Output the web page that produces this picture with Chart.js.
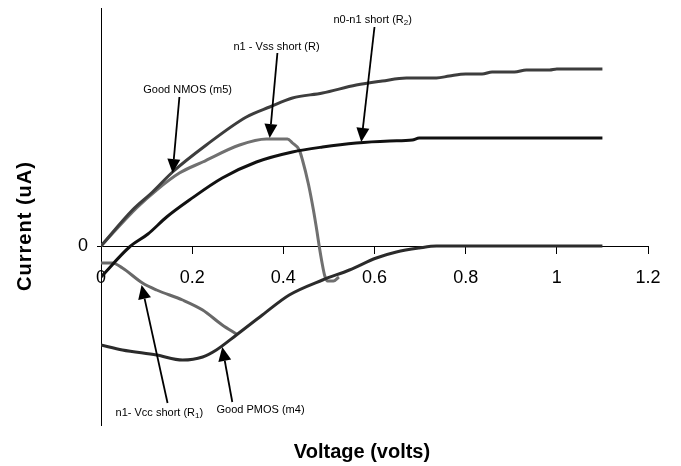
<!DOCTYPE html>
<html>
<head>
<meta charset="utf-8">
<script src="https://cdn.jsdelivr.net/npm/chart.js@4.4.1/dist/chart.umd.min.js"></script>
<style>
  html, body { margin:0; padding:0; background:#fff; }
  #wrap { width:681px; height:466px; }
</style>
</head>
<body>
<div id="wrap"><canvas id="c" width="681" height="466"></canvas></div>
<script>
// ---- data (voltage in volts, current in arbitrary uA units) ----
const xTickValues = [0, 0.2, 0.4, 0.6, 0.8, 1, 1.2];
const yTickValues = [0];

const nmosV = [0, 0.069, 0.113, 0.157, 0.231, 0.319, 0.37, 0.42, 0.486, 0.56, 0.617, 0.67, 0.72, 0.736, 0.764, 0.80, 0.836, 0.858, 0.907, 0.933, 0.984, 1.0, 1.1];
const nmosI = [0, 36, 54, 74, 101, 129, 139, 148, 153, 161, 165, 168, 168, 168, 170, 172, 172, 174, 174, 176, 176, 177, 177];

const vssV = [0, 0.078, 0.122, 0.172, 0.223, 0.304, 0.363, 0.409, 0.42, 0.435, 0.442, 0.455, 0.466, 0.474, 0.479, 0.485, 0.491, 0.497, 0.51, 0.522];
const vssI = [0, 38, 56, 73, 84, 101, 107, 107, 103, 96, 86, 62, 36, 14, -1, -17, -30, -35, -35, -31];

const r2V = [0, 0.0625, 0.103, 0.144, 0.194, 0.266, 0.341, 0.42, 0.486, 0.56, 0.633, 0.683, 0.698, 1.1];
const r2I = [-31, -1, 12, 29, 46, 68, 84, 94, 99, 103, 105, 106, 108, 108];

const pmosV = [0, 0.047, 0.122, 0.179, 0.223, 0.253, 0.297, 0.354, 0.413, 0.486, 0.545, 0.604, 0.648, 0.698, 0.736, 1.1];
const pmosI = [-99, -104, -109, -114, -111, -104, -89, -69, -49, -34, -24, -12, -6, -2, 0, 0];

const vccV = [0, 0.025, 0.047, 0.091, 0.122, 0.179, 0.223, 0.266, 0.297];
const vccI = [-17, -17, -22, -37, -44, -54, -64, -79, -88];

// annotation labels (text anchor and arrow in data coordinates)
const labels = [
  { parts:[['Good NMOS (m5)',0]], tx:0.19, ty:156, fx:0.172, fy:149, ax:0.157, ay:73 },
  { parts:[['n1 - Vss short (R)',0]], tx:0.385, ty:199, fx:0.387, fy:193, ax:0.370, ay:108 },
  { parts:[['n0-n1 short (R',0],['2',1],[')',0]], tx:0.596, ty:226, fx:0.600, fy:219, ax:0.571, ay:104 },
  { parts:[['n1- Vcc short (R',0],['1',1],[')',0]], tx:0.128, ty:-167, fx:0.146, fy:-157, ax:0.089, ay:-39 },
  { parts:[['Good PMOS (m4)',0]], tx:0.350, ty:-164, fx:0.288, fy:-156, ax:0.266, ay:-101 }
];

const toPts = (xs, ys) => xs.map((x, i) => ({ x, y: ys[i] }));
const FONT = "'Liberation Sans', Arial, sans-serif";

const ds = (label, xs, ys, color, order) => ({
  label, data: toPts(xs, ys), borderColor: color, borderWidth: 3,
  pointRadius: 0, fill: false, cubicInterpolationMode: 'monotone', order
});

const overlay = {
  id: 'overlay',
  afterDraw(chart) {
    const ctx = chart.ctx, xs = chart.scales.x, ys = chart.scales.y;
    ctx.save();
    labels.forEach(l => {
      const main = '11px ' + FONT, sub = '8px ' + FONT;
      let w = 0;
      l.parts.forEach(p => { ctx.font = p[1] ? sub : main; w += ctx.measureText(p[0]).width; });
      let x = xs.getPixelForValue(l.tx) - w / 2;
      const y = ys.getPixelForValue(l.ty);
      ctx.fillStyle = '#000';
      ctx.textBaseline = 'middle';
      ctx.textAlign = 'left';
      l.parts.forEach(p => {
        ctx.font = p[1] ? sub : main;
        ctx.fillText(p[0], x, p[1] ? y + 3 : y);
        x += ctx.measureText(p[0]).width;
      });
      const x0 = xs.getPixelForValue(l.fx), y0 = ys.getPixelForValue(l.fy);
      const x1 = xs.getPixelForValue(l.ax), y1 = ys.getPixelForValue(l.ay);
      const ang = Math.atan2(y1 - y0, x1 - x0);
      const hl = 14, hw = 6.5;
      const bx = x1 - hl * Math.cos(ang), by = y1 - hl * Math.sin(ang);
      ctx.strokeStyle = '#000';
      ctx.lineWidth = 1.8;
      ctx.beginPath(); ctx.moveTo(x0, y0); ctx.lineTo(bx, by); ctx.stroke();
      ctx.beginPath();
      ctx.moveTo(x1, y1);
      ctx.lineTo(bx + hw * Math.sin(ang), by - hw * Math.cos(ang));
      ctx.lineTo(bx - hw * Math.sin(ang), by + hw * Math.cos(ang));
      ctx.closePath(); ctx.fillStyle = '#000'; ctx.fill();
    });
    ctx.fillStyle = '#000';
    ctx.font = 'bold 20px ' + FONT;
    ctx.textAlign = 'center';
    ctx.textBaseline = 'middle';
    ctx.fillText('Voltage (volts)', 362, 452);
    ctx.translate(25, 226);
    ctx.rotate(-Math.PI / 2);
    if ('letterSpacing' in ctx) ctx.letterSpacing = '1px';
    ctx.fillText('Current (uA)', 0, 0);
    ctx.restore();
  }
};

new Chart(document.getElementById('c'), {
  type: 'line',
  data: {
    datasets: [
      ds('Good NMOS (m5)', nmosV, nmosI, '#3d3d3d', 1),
      ds('n0-n1 short (R2)', r2V, r2I, '#111111', 0),
      ds('Good PMOS (m4)', pmosV, pmosI, '#2b2b2b', 0),
      ds('n1 - Vss short (R)', vssV, vssI, '#707070', 2),
      ds('n1- Vcc short (R1)', vccV, vccI, '#686868', 3)
    ]
  },
  options: {
    responsive: false,
    devicePixelRatio: 1,
    animation: false,
    layout: { padding: { left: 78, right: 33, top: 8, bottom: 41 } },
    plugins: { legend: { display: false }, tooltip: { enabled: false }, title: { display: false } },
    scales: {
      x: {
        type: 'linear',
        position: { y: 0 },
        min: 0, max: 1.2,
        afterBuildTicks: s => { s.ticks = xTickValues.map(v => ({ value: v })); },
        ticks: {
          callback: v => String(+Number(v).toFixed(1)),
          color: '#000', font: { family: FONT, size: 18 }, padding: 14, maxRotation: 0, autoSkip: false
        },
        grid: { display: true, drawOnChartArea: false, drawTicks: true, tickLength: 7, color: '#000', lineWidth: 1 },
        border: { display: true, color: '#000', width: 1 }
      },
      y: {
        type: 'linear',
        position: 'left',
        min: -179, max: 238,
        afterBuildTicks: s => { s.ticks = yTickValues.map(v => ({ value: v })); },
        afterFit: s => { s.width = 23; s.paddingTop = 0; s.paddingBottom = 0; },
        ticks: { color: '#000', font: { family: FONT, size: 18 }, padding: 9 },
        grid: { display: true, drawOnChartArea: false, drawTicks: true, tickLength: 4, color: '#000', lineWidth: 1 },
        border: { display: true, color: '#000', width: 1 }
      }
    }
  },
  plugins: [overlay]
});
</script>
</body>
</html>
